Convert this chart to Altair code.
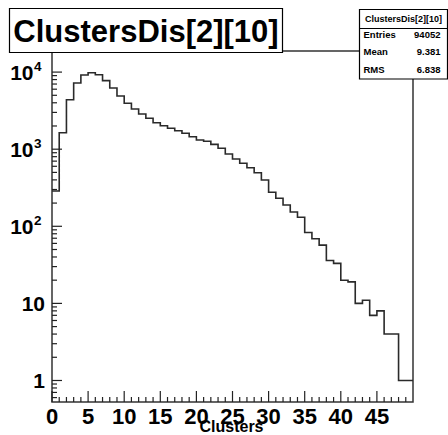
import altair as alt
import pandas as pd

# Histogram contents: ClustersDis[2][10], 50 unit-wide bins on [0, 50)
counts = [287, 1637, 4385, 7220, 9170, 9820, 9250, 7740, 6220, 4900,
          3940, 3320, 2860, 2517, 2207, 2018, 1867, 1738, 1607, 1452,
          1315, 1265, 1156, 1027, 867, 747, 656, 575, 495, 399,
          276, 231, 189, 153, 131, 83, 69, 57, 36, 33,
          20, 19, 10, 11, 7, 8, 4, 4, 1, 1]
x_range = [0, 50]
y_range = [0.526, 18775]

hist_name = "ClustersDis[2][10]"
x_title = "Clusters"
stat_names = ["Entries", "Mean", "RMS"]
stat_values = ["94052", "9.381", "6.838"]

x_major = [0, 5, 10, 15, 20, 25, 30, 35, 40, 45]
x_minor = [i for i in range(1, 50) if i % 5 != 0]
y_major = [1, 10, 100, 1000, 10000]
y_minor = [0.6, 0.7, 0.8, 0.9] + [m * 10 ** e for e in range(0, 4) for m in range(2, 10)]
y_plain_labels = [(1, "1"), (10, "10")]
y_power_labels = [(100, "2"), (1000, "3"), (10000, "4")]

W, H = 361, 351
FONT = "Liberation Sans"
INK = "#222222"

xs = alt.Scale(domain=x_range, nice=False, zero=False)
ys = alt.Scale(type="log", domain=y_range, nice=False)

# step outline: one point per bin edge, last level repeated at the upper edge
edges = list(range(x_range[0], x_range[1] + 1))
levels = counts + [counts[-1]]
hist_df = pd.DataFrame({"x": edges, "y": levels})

hist = alt.Chart(hist_df).mark_line(
    interpolate="step-after", color="#2a2a2a", strokeWidth=1.6
).encode(
    x=alt.X("x:Q", scale=xs, axis=None),
    y=alt.Y("y:Q", scale=ys, axis=None),
)


def y_ticks(values, length):
    return alt.Chart(pd.DataFrame({"v": values})).mark_rule(
        color=INK, strokeWidth=1.2
    ).encode(
        y=alt.Y("v:Q", scale=ys, axis=None),
        x=alt.value(0),
        x2=alt.value(length),
    )


def x_ticks(values, length):
    return alt.Chart(pd.DataFrame({"v": values})).mark_rule(
        color=INK, strokeWidth=1.2
    ).encode(
        x=alt.X("v:Q", scale=xs, axis=None),
        y=alt.value(H),
        y2=alt.value(H - length),
    )


x_labels = alt.Chart(pd.DataFrame({"v": x_major, "t": [str(v) for v in x_major]})).mark_text(
    font=FONT, fontWeight="bold", fontSize=22, align="center", baseline="alphabetic", color="black"
).encode(
    x=alt.X("v:Q", scale=xs, axis=None),
    y=alt.value(H + 22),
    text="t:N",
)

plain_df = pd.DataFrame({"v": [v for v, _ in y_plain_labels], "t": [t for _, t in y_plain_labels]})
y_plain = alt.Chart(plain_df).mark_text(
    font=FONT, fontWeight="bold", fontSize=21, align="right", baseline="alphabetic", dy=7.5, color="black"
).encode(
    y=alt.Y("v:Q", scale=ys, axis=None),
    x=alt.value(-7),
    text="t:N",
)

power_df = pd.DataFrame({"v": [v for v, _ in y_power_labels], "e": [e for _, e in y_power_labels],
                         "b": ["10"] * len(y_power_labels)})
y_base = alt.Chart(power_df).mark_text(
    font=FONT, fontWeight="bold", fontSize=21, align="right", baseline="alphabetic", dy=8, color="black"
).encode(
    y=alt.Y("v:Q", scale=ys, axis=None),
    x=alt.value(-18.5),
    text="b:N",
)
y_exp = alt.Chart(power_df).mark_text(
    font=FONT, fontWeight="bold", fontSize=13.5, align="left", baseline="alphabetic", dy=-1, color="black"
).encode(
    y=alt.Y("v:Q", scale=ys, axis=None),
    x=alt.value(-18),
    text="e:N",
)

one = pd.DataFrame({"k": [0]})


def box(x0, x1, y0, y1):
    return alt.Chart(one).mark_rect(fill="white", stroke="black", strokeWidth=1.2).encode(
        x=alt.value(x0), x2=alt.value(x1), y=alt.value(y0), y2=alt.value(y1)
    )


def label(text, x, y, size, align="left", weight="bold"):
    return alt.Chart(one).mark_text(
        text=text, font=FONT, fontSize=size, fontWeight=weight, align=align,
        baseline="alphabetic", color="black"
    ).encode(x=alt.value(x), y=alt.value(y))


title_box = box(-42.5, 230.5, -42.5, 1.5)
title_text = label(hist_name, 94, -9.5, 31, align="center")

stats_box = box(307.5, 395.5, -41.5, 28)
stats_sep = alt.Chart(one).mark_rule(color="black", strokeWidth=1).encode(
    x=alt.value(307.5), x2=alt.value(395.5), y=alt.value(-22.5)
)
stats_head = label(hist_name, 351.5, -29, 9, align="center")
stats_rows = []
for i, (name, val) in enumerate(zip(stat_names, stat_values)):
    yy = -13.5 + i * 17.6
    stats_rows.append(label(name, 311.5, yy, 9.5))
    stats_rows.append(label(val, 388.5, yy, 9.5, align="right"))

axis_title = label(x_title, 179.5, H + 30, 16, align="center")

chart = alt.layer(
    hist,
    y_ticks(y_major, 10), y_ticks(y_minor, 5),
    x_ticks(x_major, 11), x_ticks(x_minor, 5),
    x_labels, y_plain, y_base, y_exp, axis_title,
    title_box, title_text,
    stats_box, stats_sep, stats_head, *stats_rows,
).properties(
    width=W, height=H,
    autosize="none",
    padding={"left": 52, "top": 51, "right": 35, "bottom": 33},
    background="white",
).configure_view(stroke="#333333", strokeWidth=1.5)

chart.save("out.html", embed_options={"renderer": "svg", "actions": False})
